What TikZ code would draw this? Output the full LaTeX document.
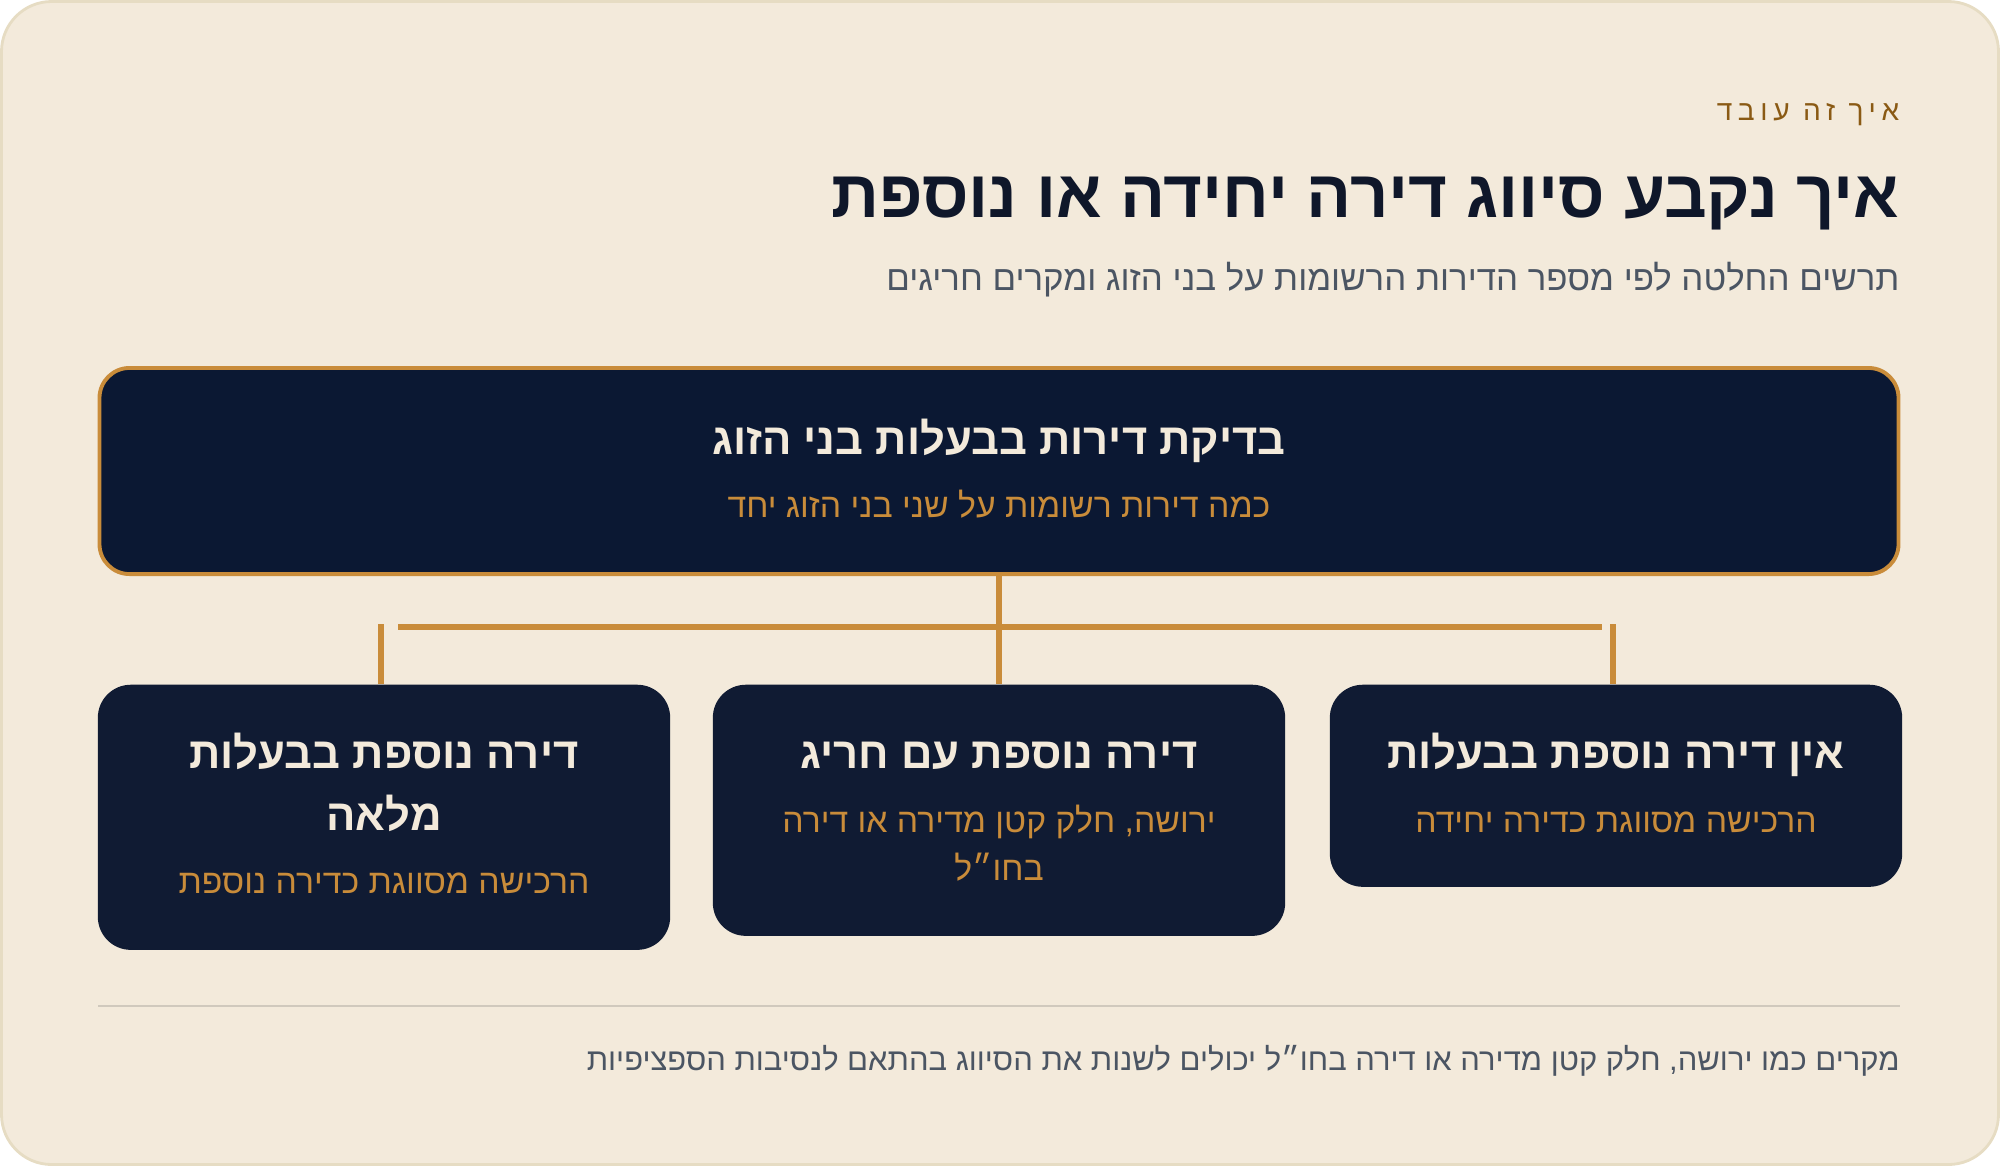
\documentclass[tikz,border=0pt]{standalone}
\usepackage{fontspec}
\setmainfont{Liberation Sans}[Script=Hebrew]
\newfontfamily\spacedfont[Script=Hebrew,LetterSpace=20]{Liberation Sans}
\TeXXeTstate=1
\definecolor{cardbg}{HTML}{F3EADB}
\definecolor{cardline}{HTML}{E6DCC3}
\definecolor{navy}{HTML}{0B1833}
\definecolor{navyleaf}{HTML}{101B33}
\definecolor{gold}{HTML}{C98C3A}
\definecolor{cream}{HTML}{F3EADB}
\definecolor{ink}{HTML}{0F172A}
\definecolor{slate}{HTML}{4B5563}
\definecolor{kickerbrown}{HTML}{8A5A14}
\definecolor{rulegray}{HTML}{D0C9BD}
\begin{document}
\begin{tikzpicture}[x=0.01cm, y=-0.01cm,
  card/.style={fill=cardbg, draw=cardline, line width=0.8pt, rounded corners=0.5cm},
  head/.style={draw=gold, line width=1.1pt, fill=navy, rounded corners=0.3cm, minimum width=17.98cm, minimum height=2.06cm},
  leaf/.style={fill=navyleaf, rounded corners=0.33cm, minimum width=5.72cm, anchor=north},
  link/.style={draw=gold, line width=1.7pt},
  boxtitle/.style={anchor=base, inner sep=0pt, text=cream, font=\bfseries\fontsize{12.4}{15}\selectfont},
  boxsub/.style={anchor=base, inner sep=0pt, text=gold, font=\fontsize{9.6}{12}\selectfont},
  rtext/.style={anchor=base east, inner sep=0pt}]
\useasboundingbox (0,0) rectangle (2000,1166);
\path[card] (1.5,1.5) rectangle (1998.5,1164.5);
\node[rtext, text=kickerbrown, font=\spacedfont\fontsize{8}{10}\selectfont] (kicker) at (1900,120) {\beginR איך זה עובד\endR};
\node[rtext, text=ink, font=\bfseries\fontsize{19}{23}\selectfont] (title) at (1900,217) {\beginR איך נקבע סיווג דירה יחידה או נוספת\endR};
\node[rtext, text=slate, font=\fontsize{9.9}{12}\selectfont] (subtitle) at (1900,290) {\beginR תרשים החלטה לפי מספר הדירות הרשומות על בני הזוג ומקרים חריגים\endR};
\node[head] (check) at (999,471) {};
\node[boxtitle] (checkT) at (999,454) {\beginR בדיקת דירות בבעלות בני הזוג\endR};
\node[boxsub] (checkS) at (999,517) {\beginR כמה דירות רשומות על שני בני הזוג יחד\endR};
\node[leaf, minimum height=2.65cm] (full) at (384,684) {};
\node[leaf, minimum height=2.51cm] (except) at (999,684) {};
\node[leaf, minimum height=2.02cm] (single) at (1616,684) {};
\node[boxtitle] (fullT) at (384,768) {\beginR דירה נוספת בבעלות\endR};
\node[boxtitle] (fullT2) at (384,830) {\beginR מלאה\endR};
\node[boxsub] (fullS) at (384,893) {\beginR הרכישה מסווגת כדירה נוספת\endR};
\node[boxtitle] (exceptT) at (999,768) {\beginR דירה נוספת עם חריג\endR};
\node[boxsub] (exceptS) at (999,832) {\beginR ירושה, חלק קטן מדירה או דירה\endR};
\node[boxsub] (exceptS2) at (999,880) {\beginR בחו״ל\endR};
\node[boxtitle] (singleT) at (1616,768) {\beginR אין דירה נוספת בבעלות\endR};
\node[boxsub] (singleS) at (1616,832) {\beginR הרכישה מסווגת כדירה יחידה\endR};
\coordinate (barL) at (398,627);
\coordinate (barR) at (1602,627);
\coordinate (dropL) at (381,624);
\coordinate (dropR) at (1613,624);
\draw[link] (check) -- (except);
\draw[link] (barL) -- (barR);
\draw[link] (dropL) -- (dropL |- full.north);
\draw[link] (dropR) -- (dropR |- single.north);
\draw[rulegray, line width=0.6pt] (98,1006) -- (1900,1006);
\node[rtext, text=slate, font=\fontsize{8.8}{11}\selectfont] (note) at (1900,1070) {\beginR מקרים כמו ירושה, חלק קטן מדירה או דירה בחו״ל יכולים לשנות את הסיווג בהתאם לנסיבות הספציפיות\endR};
\end{tikzpicture}
\end{document}
